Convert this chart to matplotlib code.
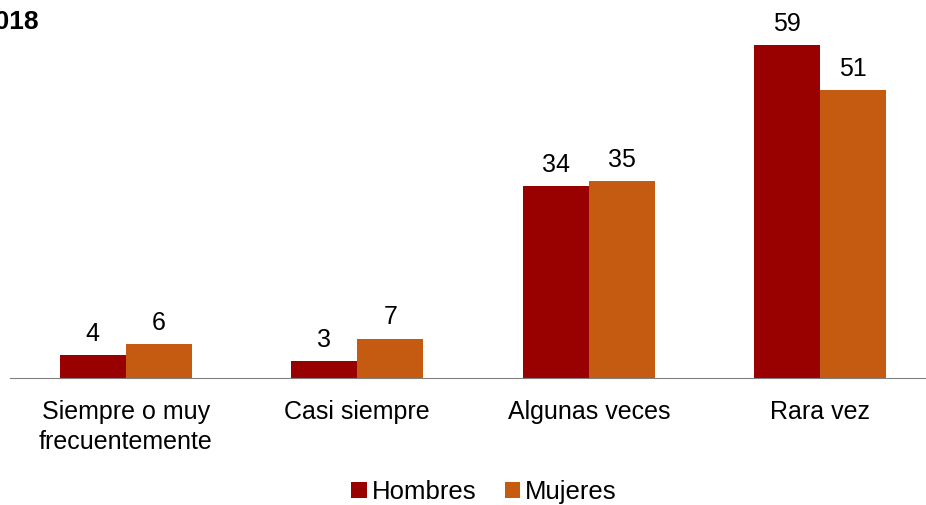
import matplotlib
matplotlib.use("Agg")
import matplotlib.pyplot as plt
import numpy as np

plt.rcParams['font.family'] = ['Liberation Sans', 'DejaVu Sans']

categories = ["Siempre o muy\nfrecuentemente", "Casi siempre", "Algunas veces", "Rara vez"]
hombres = [4, 3, 34, 59]
mujeres = [6, 7, 35, 51]
series_names = ["Hombres", "Mujeres"]
colors = ["#990000", "#C55A11"]

W, H = 926, 505
fig = plt.figure(figsize=(W/100, H/100), dpi=100)
ax = fig.add_axes([10/W, (H-378)/H, (936-10)/W, 378/H])

x = np.arange(len(categories))
w = 0.285
b1 = ax.bar(x - w/2, hombres, w, color=colors[0], label=series_names[0])
b2 = ax.bar(x + w/2, mujeres, w, color=colors[1], label=series_names[1])
for bars, vals in ((b1, hombres), (b2, mujeres)):
    for r, v in zip(bars, vals):
        ax.text(r.get_x() + r.get_width()/2, v + 1.6, str(v), ha='center', va='bottom', fontsize=18)

ax.set_xlim(-0.5, 3.5)
ax.set_ylim(0, 67)
for s in ['top', 'right', 'left']:
    ax.spines[s].set_visible(False)
ax.spines['bottom'].set_color('#808080')
ax.set_yticks([])
ax.set_xticks(x)
ax.set_xticklabels(categories, fontsize=18, linespacing=1.3)
ax.tick_params(axis='x', length=0, pad=16)

fig.text(-20/W, 1 - 22/H, "2018", fontsize=19, fontweight='bold', ha='left', va='center')

leg = fig.legend(handles=[b1, b2], labels=series_names, loc='center', bbox_to_anchor=(484/W, 1 - 492/H),
                 ncol=2, frameon=False, fontsize=18.5, handlelength=0.6, handleheight=0.6,
                 handletextpad=0.2, columnspacing=1.1, borderpad=0)

fig.savefig("out.png", dpi=100)
